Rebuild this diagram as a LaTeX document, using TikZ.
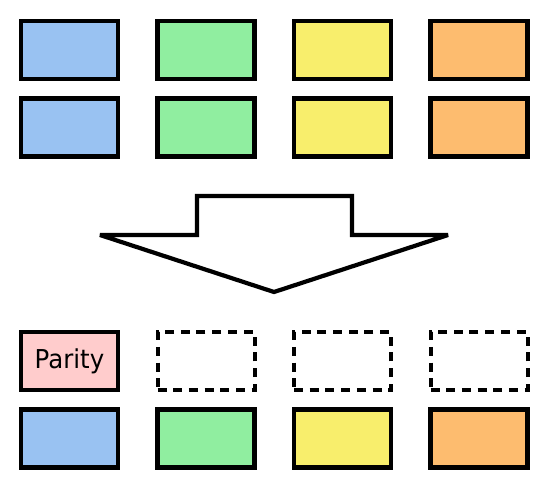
\documentclass[tikz,border=0pt]{standalone}
\usepackage{fontspec}
\setmainfont{DejaVu Sans}
\newfontfamily\labelfont[FakeStretch=0.94]{DejaVu Sans}
\usepackage{xcolor}
\definecolor{blockblue}{RGB}{153,194,242}
\definecolor{blockgreen}{RGB}{144,238,160}
\definecolor{blockyellow}{RGB}{248,238,108}
\definecolor{blockorange}{RGB}{253,188,111}
\definecolor{paritypink}{RGB}{255,204,204}
\tikzset{
  block/.style={draw, line width=4.2pt, minimum width=97pt, minimum height=58pt, inner sep=0pt},
  emptyblock/.style={block, line width=4pt, dash pattern=on 9pt off 6.7pt}
}

\begin{document}
\begin{tikzpicture}[x=1pt, y=-1pt]
\useasboundingbox (0,0) rectangle (548,489);

% data blocks before
\foreach \c/\x/\col in {1/69.5/blockblue, 2/206/blockgreen, 3/342.5/blockyellow, 4/479/blockorange}{
  \node[block, fill=\col] (top\c) at (\x,50) {};
  \node[block, fill=\col] (mid\c) at (\x,127.5) {};
}

% arrow
\coordinate (P) at (274,292);
\draw[line width=4.2pt, line join=miter, miter limit=2, fill=white]
  (197,196) -- (352,196) -- (352,235) -- (448,235) -- (P)
  -- (100,235) -- (197,235) -- cycle;

% after
\node[block, fill=paritypink, font=\labelfont\fontsize{26}{30}\selectfont] (par) at (69.5,361) {Parity};
\foreach \c/\x in {2/206, 3/342.5, 4/479}{
  \node[emptyblock] (free\c) at (\x,361) {};
}
\foreach \c/\x/\col in {1/69.5/blockblue, 2/206/blockgreen, 3/342.5/blockyellow, 4/479/blockorange}{
  \node[block, fill=\col] (bot\c) at (\x,438.5) {};
}
\end{tikzpicture}
\end{document}
